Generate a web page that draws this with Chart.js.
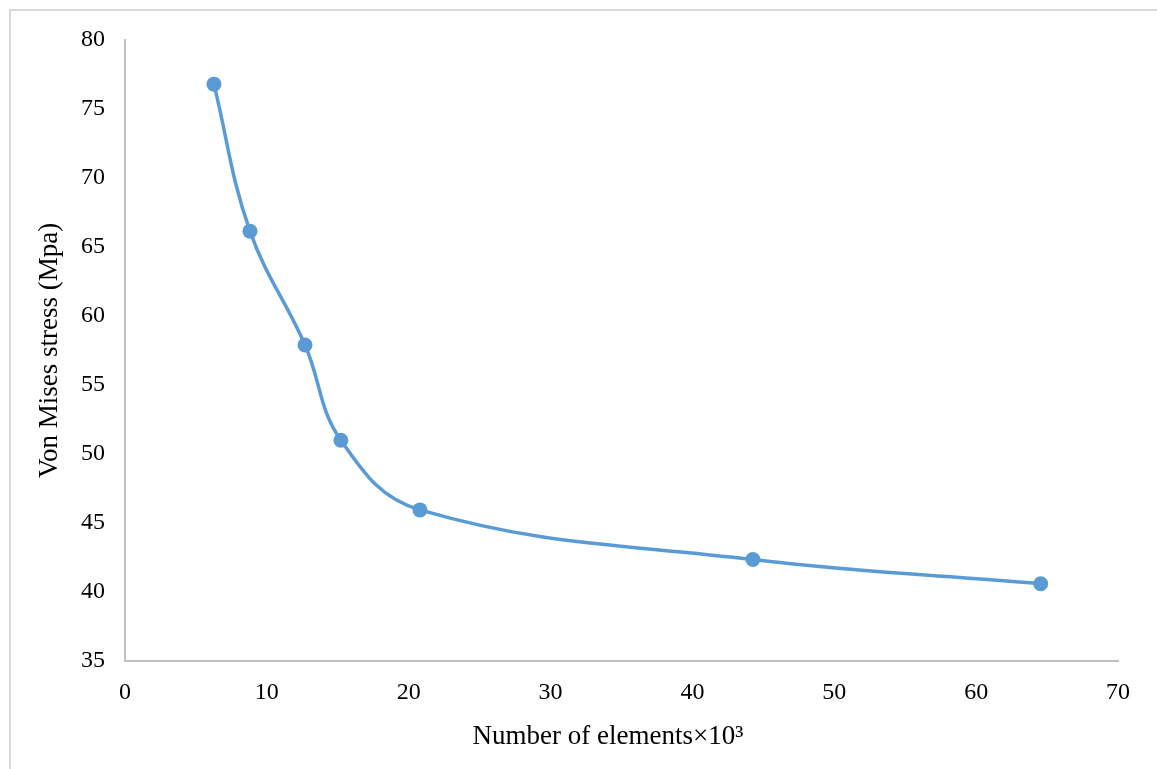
<!DOCTYPE html>
<html>
<head>
<meta charset="utf-8">
<script src="https://cdn.jsdelivr.net/npm/chart.js@4"></script>
<style>
  html, body { margin: 0; padding: 0; background: #fff; overflow: hidden; }
  #frame {
    position: absolute; left: 9px; top: 9px; width: 1200px; height: 800px;
    border-left: 2px solid #d9d9d9; border-top: 2px solid #d9d9d9;
  }
  #wrap { position: absolute; left: 0; top: 0; width: 1157px; height: 769px; }
</style>
</head>
<body>
<div id="frame"></div>
<div id="wrap"><canvas id="meshChart"></canvas></div>
<script>
// mesh convergence study: element count (x10^3) vs von Mises stress
const ELEMENTS = [6.27, 8.81, 12.69, 15.22, 20.79, 44.26, 64.55];
const STRESS = [76.8, 66.15, 57.9, 51.0, 45.95, 42.35, 40.6];
const X_TICKS = [0, 10, 20, 30, 40, 50, 60, 70];
const Y_TICKS = [35, 40, 45, 50, 55, 60, 65, 70, 75, 80];

const BLUE = '#5b9bd5';
const AXIS_GRAY = '#bfbfbf';
const FONT = "'Liberation Serif', 'Times New Roman', serif";

const ctx = document.getElementById('meshChart').getContext('2d');
new Chart(ctx, {
  type: 'line',
  data: {
    datasets: [{
      data: ELEMENTS.map((x, i) => ({ x: x, y: STRESS[i] })),
      borderColor: BLUE,
      backgroundColor: BLUE,
      borderWidth: 3.5,
      tension: 0.4,
      pointRadius: 7.5,
      pointHoverRadius: 7.5,
      pointBorderWidth: 0,
      pointBackgroundColor: BLUE,
    }]
  },
  options: {
    responsive: true,
    maintainAspectRatio: false,
    animation: false,
    layout: { padding: { top: 40, right: 39, left: 0, bottom: 0 } },
    plugins: { legend: { display: false }, tooltip: { enabled: false } },
    scales: {
      x: {
        type: 'linear',
        min: X_TICKS[0],
        max: X_TICKS[X_TICKS.length - 1],
        afterBuildTicks: s => { s.ticks = X_TICKS.map(v => ({ value: v })); },
        afterFit: s => { s.height = 108; },
        grid: { display: false },
        border: { display: true, color: AXIS_GRAY, width: 2 },
        ticks: { color: '#000', padding: 9, font: { family: FONT, size: 24 } },
        title: {
          display: true,
          // trailing spaces nudge the centred title a bit left, like the original
          text: 'Number of elements×10³\u00a0\u00a0\u00a0\u00a0',
          color: '#000',
          font: { family: FONT, size: 27 },
          padding: { top: 0, bottom: 16 },
        }
      },
      y: {
        type: 'linear',
        min: Y_TICKS[0],
        max: Y_TICKS[Y_TICKS.length - 1],
        afterBuildTicks: s => { s.ticks = Y_TICKS.map(v => ({ value: v })); },
        afterFit: s => { s.width = 125; },
        grid: { display: false },
        border: { display: true, color: AXIS_GRAY, width: 2 },
        ticks: { color: '#000', padding: 12, font: { family: FONT, size: 24 } },
        title: {
          display: true,
          text: 'Von Mises stress (Mpa)',
          color: '#000',
          font: { family: FONT, size: 27 },
          padding: { top: 34, bottom: 0 },
        }
      }
    }
  }
});
</script>
</body>
</html>
